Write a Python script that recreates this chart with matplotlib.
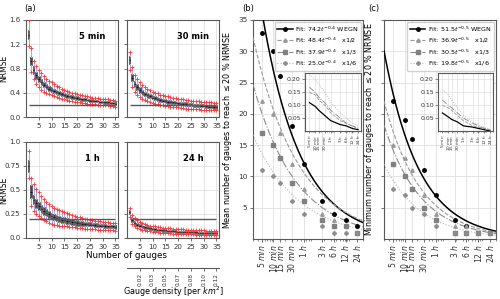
import numpy as np
import matplotlib.pyplot as plt
from matplotlib.ticker import NullFormatter, FixedLocator

# ---- panel (a): NRMSE vs number of gauges ----
n_gauges = np.arange(1, 36)

med5 = [1.36,0.92,0.78,0.69,0.62,0.57,0.53,0.50,0.47,0.45,0.43,0.41,0.39,0.38,0.36,0.35,0.34,0.33,0.32,0.31,0.30,0.29,0.29,0.28,0.27,0.27,0.26,0.26,0.25,0.25,0.24,0.24,0.23,0.23,0.22]
q1_5 = [1.29,0.85,0.71,0.63,0.57,0.52,0.49,0.46,0.43,0.41,0.39,0.38,0.36,0.35,0.33,0.32,0.31,0.30,0.29,0.28,0.28,0.27,0.27,0.26,0.25,0.25,0.24,0.24,0.23,0.23,0.22,0.22,0.21,0.21,0.20]
q3_5 = [1.44,0.99,0.84,0.75,0.68,0.62,0.58,0.54,0.51,0.49,0.47,0.45,0.43,0.41,0.39,0.38,0.37,0.36,0.35,0.34,0.33,0.32,0.31,0.30,0.30,0.29,0.28,0.28,0.27,0.27,0.26,0.26,0.25,0.25,0.24]
lo5 = [1.17,0.75,0.62,0.55,0.49,0.45,0.42,0.40,0.38,0.36,0.34,0.33,0.31,0.30,0.29,0.28,0.27,0.26,0.25,0.25,0.24,0.23,0.23,0.22,0.22,0.21,0.21,0.20,0.20,0.19,0.19,0.19,0.18,0.18,0.17]
hi5 = [1.60,1.13,0.93,0.84,0.77,0.72,0.67,0.63,0.60,0.57,0.54,0.51,0.49,0.47,0.45,0.43,0.42,0.40,0.39,0.38,0.37,0.36,0.35,0.34,0.33,0.32,0.32,0.31,0.30,0.30,0.29,0.29,0.28,0.28,0.27]

med30 = [0.94,0.65,0.55,0.49,0.44,0.41,0.38,0.36,0.34,0.32,0.31,0.29,0.28,0.27,0.26,0.25,0.25,0.24,0.23,0.23,0.22,0.21,0.21,0.20,0.20,0.20,0.19,0.19,0.18,0.18,0.18,0.17,0.17,0.17,0.16]
q1_30 = [0.88,0.59,0.50,0.45,0.40,0.37,0.34,0.32,0.31,0.29,0.28,0.26,0.25,0.24,0.23,0.22,0.22,0.21,0.21,0.20,0.19,0.19,0.18,0.18,0.18,0.17,0.17,0.16,0.16,0.16,0.15,0.15,0.15,0.14,0.14]
q3_30 = [1.00,0.71,0.60,0.54,0.49,0.45,0.42,0.40,0.38,0.36,0.34,0.33,0.31,0.30,0.29,0.28,0.28,0.27,0.26,0.25,0.25,0.24,0.24,0.23,0.23,0.22,0.22,0.21,0.21,0.21,0.20,0.20,0.19,0.19,0.19]
lo30 = [0.78,0.50,0.42,0.37,0.33,0.30,0.28,0.26,0.25,0.23,0.22,0.21,0.20,0.19,0.18,0.18,0.17,0.17,0.16,0.16,0.15,0.15,0.14,0.14,0.14,0.13,0.13,0.13,0.12,0.12,0.12,0.12,0.11,0.11,0.11]
hi30 = [1.08,0.82,0.70,0.63,0.57,0.53,0.50,0.47,0.45,0.42,0.40,0.39,0.37,0.36,0.35,0.34,0.33,0.32,0.31,0.30,0.30,0.29,0.28,0.28,0.27,0.27,0.26,0.26,0.25,0.25,0.25,0.24,0.24,0.23,0.23]

med1h = [0.75,0.48,0.40,0.36,0.33,0.30,0.28,0.26,0.25,0.23,0.22,0.21,0.20,0.19,0.19,0.18,0.18,0.17,0.17,0.16,0.16,0.15,0.15,0.15,0.14,0.14,0.14,0.13,0.13,0.13,0.12,0.12,0.12,0.12,0.11]
q1_1h = [0.69,0.42,0.35,0.31,0.29,0.26,0.24,0.23,0.21,0.20,0.19,0.18,0.17,0.16,0.16,0.15,0.15,0.14,0.14,0.13,0.13,0.13,0.12,0.12,0.12,0.12,0.11,0.11,0.11,0.11,0.10,0.10,0.10,0.10,0.09]
q3_1h = [0.81,0.55,0.45,0.41,0.37,0.34,0.32,0.30,0.28,0.26,0.25,0.24,0.23,0.22,0.22,0.21,0.20,0.20,0.19,0.19,0.18,0.18,0.17,0.17,0.17,0.16,0.16,0.16,0.15,0.15,0.15,0.14,0.14,0.14,0.14]
lo1h = [0.62,0.33,0.28,0.25,0.23,0.21,0.19,0.18,0.16,0.15,0.14,0.14,0.13,0.13,0.12,0.12,0.11,0.11,0.11,0.10,0.10,0.10,0.09,0.09,0.09,0.09,0.09,0.08,0.08,0.08,0.08,0.08,0.08,0.08,0.07]
hi1h = [0.91,0.62,0.56,0.51,0.48,0.44,0.41,0.38,0.35,0.33,0.31,0.30,0.29,0.28,0.27,0.26,0.25,0.24,0.23,0.22,0.22,0.21,0.20,0.20,0.19,0.19,0.18,0.18,0.18,0.17,0.17,0.17,0.16,0.16,0.16]

med24 = [0.27,0.19,0.16,0.14,0.13,0.12,0.11,0.10,0.10,0.09,0.09,0.08,0.08,0.08,0.08,0.07,0.07,0.07,0.07,0.06,0.06,0.06,0.06,0.06,0.06,0.06,0.06,0.05,0.05,0.05,0.05,0.05,0.05,0.05,0.05]
q1_24 = [0.25,0.17,0.14,0.12,0.11,0.10,0.09,0.09,0.08,0.08,0.07,0.07,0.07,0.06,0.06,0.06,0.06,0.06,0.05,0.05,0.05,0.05,0.05,0.05,0.05,0.05,0.04,0.04,0.04,0.04,0.04,0.04,0.04,0.04,0.04]
q3_24 = [0.29,0.21,0.18,0.16,0.15,0.13,0.12,0.12,0.11,0.10,0.10,0.09,0.09,0.09,0.09,0.08,0.08,0.08,0.08,0.07,0.07,0.07,0.07,0.07,0.07,0.07,0.07,0.06,0.06,0.06,0.06,0.06,0.06,0.06,0.06]
lo24 = [0.22,0.15,0.12,0.10,0.09,0.08,0.08,0.07,0.07,0.06,0.06,0.06,0.05,0.05,0.05,0.05,0.05,0.04,0.04,0.04,0.04,0.04,0.04,0.04,0.04,0.04,0.03,0.03,0.03,0.03,0.03,0.03,0.03,0.03,0.03]
hi24 = [0.31,0.24,0.21,0.19,0.17,0.16,0.15,0.14,0.13,0.12,0.12,0.11,0.11,0.10,0.10,0.10,0.10,0.09,0.09,0.09,0.09,0.09,0.08,0.08,0.08,0.08,0.08,0.08,0.08,0.08,0.07,0.07,0.07,0.07,0.07]

density_ticks = [5, 10, 15, 20, 25, 30, 35]
density_labels = ['0.02', '0.03', '0.05', '0.07', '0.08', '0.10', '0.12']

# ---- panels (b), (c): gauges needed vs temporal resolution ----
res_min = [5, 10, 15, 30, 60, 180, 360, 720, 1440]
res_labels = ['5 min', '10 min', '15 min', '30 min', '1 h', '3 h', '6 h', '12 h', '24 h']

mean_wegn = [33, 30, 26, 18, 12, 6, 4, 3, 2]
mean_half = [22, 20, 17, 12, 8, 4, 3, 2, 1]
mean_third = [17, 15, 13, 9, 6, 3, 2, 2, 1]
mean_sixth = [11, 10, 9, 6, 4, 2, 1, 1, 1]

min_wegn = [22, 19, 16, 11, 7, 3, 2, 1, 1]
min_half = [15, 13, 11, 7, 4, 2, 2, 1, 1]
min_third = [12, 10, 8, 5, 3, 1, 1, 1, 1]
min_sixth = [8, 7, 5, 4, 2, 1, 1, 1, 1]

fit_a_mean = [74.2, 48.4, 37.9, 25.0]
fit_b_mean = [0.44, 0.37, 0.39, 0.37]
fit_a_min = [51.5, 36.9, 30.5, 19.8]
fit_b_min = [0.49, 0.47, 0.47, 0.46]

# insets
ins_mean_wegn = [0.11, 0.095, 0.08, 0.06, 0.04, 0.025, 0.02, 0.01, 0.005]
ins_mean_half = [0.15, 0.14, 0.12, 0.10, 0.07, 0.04, 0.03, 0.02, 0.01]
ins_mean_third = [0.17, 0.15, 0.13, 0.11, 0.08, 0.05, 0.03, 0.02, 0.01]
ins_mean_sixth = [0.22, 0.20, 0.18, 0.15, 0.11, 0.07, 0.05, 0.03, 0.02]
ins_min_wegn = [0.07, 0.055, 0.045, 0.035, 0.02, 0.015, 0.01, 0.005, 0.0]
ins_min_half = [0.10, 0.09, 0.08, 0.06, 0.04, 0.02, 0.015, 0.01, 0.005]
ins_min_third = [0.12, 0.10, 0.09, 0.07, 0.05, 0.03, 0.02, 0.01, 0.005]
ins_min_sixth = [0.16, 0.14, 0.12, 0.09, 0.06, 0.035, 0.02, 0.015, 0.005]

plt.rcParams['font.family'] = 'DejaVu Sans'
plt.rcParams['axes.edgecolor'] = '0.35'
plt.rcParams['xtick.color'] = '0.35'
plt.rcParams['ytick.color'] = '0.35'
plt.rcParams['xtick.labelcolor'] = '0.2'
plt.rcParams['ytick.labelcolor'] = '0.2'

W, H = 500, 299
fig = plt.figure(figsize=(5, 2.99), dpi=100)


def rect(x0, y0, x1, y1):
	return [x0 / W, 1 - y1 / H, (x1 - x0) / W, (y1 - y0) / H]


def box_panel(ax, med, q1, q3, lo, hi, title):
	stats = []
	for i in range(len(med)):
		stats.append(dict(med=med[i], q1=q1[i], q3=q3[i], whislo=lo[i], whishi=hi[i], fliers=[]))
	ax.grid(color='0.88', lw=0.6, zorder=0)
	ax.set_axisbelow(True)
	ax.bxp(stats, positions=n_gauges, widths=0.65, patch_artist=True, showfliers=False,
		boxprops=dict(facecolor='0.28', edgecolor='0.2', lw=0.4),
		whiskerprops=dict(color='#a9a9e4', lw=0.8),
		capprops=dict(color='#a9a9e4', lw=0.6),
		medianprops=dict(color='0.05', lw=0.6), manage_ticks=False)
	ax.plot(n_gauges, hi, '+', color='#ff3838', ms=2.6, mew=0.6, zorder=5)
	ax.plot(n_gauges, lo, '+', color='#ff3838', ms=2.6, mew=0.6, zorder=5)
	ax.hlines(0.2, 1, 35, color='0.35', lw=1, zorder=6)
	ax.set_xlim(0, 36)
	ax.set_xticks([5, 10, 15, 20, 25, 30, 35])
	ax.tick_params(labelsize=5, length=2.5, width=0.6, pad=1.5)
	ax.text(0.72, 0.83, title, transform=ax.transAxes, ha='center', va='center',
		fontsize=6, fontweight='bold')


ax_tl = fig.add_axes(rect(26, 20, 118, 117))
ax_tr = fig.add_axes(rect(127, 20, 219, 117), sharey=ax_tl)
ax_bl = fig.add_axes(rect(26, 142, 118, 238))
ax_br = fig.add_axes(rect(127, 142, 219, 238), sharey=ax_bl)

box_panel(ax_tl, med5, q1_5, q3_5, lo5, hi5, '5 min')
box_panel(ax_tr, med30, q1_30, q3_30, lo30, hi30, '30 min')
box_panel(ax_bl, med1h, q1_1h, q3_1h, lo1h, hi1h, '1 h')
box_panel(ax_br, med24, q1_24, q3_24, lo24, hi24, '24 h')

ax_tl.set_ylim(0, 1.6)
ax_tl.set_yticks([0.0, 0.4, 0.8, 1.2, 1.6])
ax_bl.set_ylim(0, 1.0)
ax_bl.set_yticks([0.0, 0.25, 0.5, 0.75, 1.0])
ax_bl.set_yticklabels(['0.0', '0.25', '0.5', '0.75', '1.0'])
for a in (ax_tr, ax_br):
	a.tick_params(labelleft=False)
for a in (ax_tl, ax_bl):
	a.set_ylabel('NRMSE', fontsize=5.5)
	a.yaxis.set_label_coords(-0.19, 0.5)

fig.text(127 / W, 1 - 256 / H, 'Number of gauges', ha='center', va='center', fontsize=6.3)
fig.text(30 / W, 1 - 8 / H, '(a)', ha='center', va='center', fontsize=6)

ax_d = fig.add_axes(rect(127, 267, 219, 268))
ax_d.set_xlim(0, 36)
ax_d.set_xticks(density_ticks)
ax_d.set_xticklabels(density_labels, rotation=90, fontsize=4.2)
ax_d.set_yticks([])
for s in ('top', 'left', 'right'):
	ax_d.spines[s].set_visible(False)
ax_d.patch.set_alpha(0)
ax_d.tick_params(length=2.5, width=0.6, pad=1.2)
fig.text(173 / W, 1 - 292 / H, 'Gauge density [per $km^2$]', ha='center', va='center', fontsize=5.8)

# ---- (b) and (c) ----
styles = [
	dict(color='black', ls='-', marker='o', lw=1.1, mc='black'),
	dict(color='0.6', ls='--', marker='^', lw=0.8, mc='0.6'),
	dict(color='0.55', ls='-.', marker='s', lw=0.8, mc='0.5'),
	dict(color='0.72', ls=':', marker='P', lw=0.8, mc='0.55'),
]
tags = ['WEGN', '  x1/2', '  x1/3', '  x1/6']
t_fit = np.geomspace(3, 2000, 200)
res_tick_labels = ['$' + lab.replace(' ', r'\ ') + '$' for lab in res_labels]


def res_panel(ax, points, fa, fb, expo, inset_rect, inset_lines):
	ax.set_xscale('log')
	ax.grid(color='0.88', lw=0.6)
	ax.set_axisbelow(True)
	handles = []
	for k in range(4):
		st = styles[k]
		ax.plot(res_min, points[k], ls='none', marker=st['marker'], color=st['mc'], ms=2.5, zorder=4)
		ax.plot(t_fit, fa[k] * t_fit ** (-fb[k]), color=st['color'], ls=st['ls'], lw=st['lw'], zorder=3)
		h, = ax.plot([], [], color=st['color'], ls=st['ls'], lw=st['lw'], marker=st['marker'],
			ms=2.5, mfc=st['mc'], mec=st['mc'])
		handles.append(h)
	labels = ['Fit: %.1f$t^{%s}$ %s' % (fa[k], expo, tags[k]) for k in range(4)]
	ax.legend(handles, labels, loc='upper right', fontsize=4.6, handlelength=2.4,
		borderpad=0.4, labelspacing=0.35, handletextpad=0.4, framealpha=0.9, edgecolor='0.8',
		borderaxespad=0.3)
	ax.set_xlim(3, 2000)
	ax.set_ylim(0, 35)
	ax.set_yticks([5, 10, 15, 20, 25, 30, 35])
	ax.xaxis.set_major_locator(FixedLocator(res_min))
	ax.set_xticklabels(res_tick_labels, rotation=90)
	ax.xaxis.set_minor_formatter(NullFormatter())
	ax.tick_params(axis='y', labelsize=5.3, length=2.5, width=0.6, pad=1.5)
	ax.tick_params(axis='x', labelsize=5.6, length=2.5, width=0.6, pad=1.5)
	ax.tick_params(which='minor', length=1.5, width=0.5)

	axi = fig.add_axes(inset_rect)
	axi.set_xscale('log')
	axi.grid(color='0.88', lw=0.5)
	for k in range(4):
		st = styles[k]
		axi.plot(res_min, inset_lines[k], color=st['color'], ls=st['ls'], lw=st['lw'] * 0.8)
	axi.set_xlim(3, 2000)
	axi.set_ylim(0, 0.225)
	axi.set_yticks([0.05, 0.10, 0.15, 0.20])
	axi.xaxis.set_major_locator(FixedLocator(res_min))
	axi.set_xticklabels(res_tick_labels, rotation=90, fontsize=3)
	axi.xaxis.set_minor_formatter(NullFormatter())
	axi.tick_params(axis='y', labelsize=4.5, length=2, width=0.5, pad=1)
	axi.tick_params(axis='x', length=1.5, width=0.5, pad=1)
	axi.tick_params(which='minor', length=1, width=0.4)
	return axi


ax_b = fig.add_axes(rect(253, 20, 363, 239))
ax_c = fig.add_axes(rect(384, 20, 496, 239), sharey=ax_b)

res_panel(ax_b, [mean_wegn, mean_half, mean_third, mean_sixth], fit_a_mean, fit_b_mean, '-0.4',
	rect(305, 73, 361, 131), [ins_mean_wegn, ins_mean_half, ins_mean_third, ins_mean_sixth])
res_panel(ax_c, [min_wegn, min_half, min_third, min_sixth], fit_a_min, fit_b_min, '-0.5',
	rect(438, 73, 493, 131), [ins_min_wegn, ins_min_half, ins_min_third, ins_min_sixth])
ax_c.tick_params(labelleft=False)

ax_b.set_ylabel(r'Mean number of gauges to reach $\leq$20 % NRMSE', fontsize=5.8, labelpad=3)
ax_c.set_ylabel(r'Minimum number of gauges to reach $\leq$20 % NRMSE', fontsize=5.8, labelpad=3)
fig.text(248 / W, 1 - 8 / H, '(b)', ha='center', va='center', fontsize=6)
fig.text(374 / W, 1 - 8 / H, '(c)', ha='center', va='center', fontsize=6)

fig.savefig('out.png', dpi=100)
